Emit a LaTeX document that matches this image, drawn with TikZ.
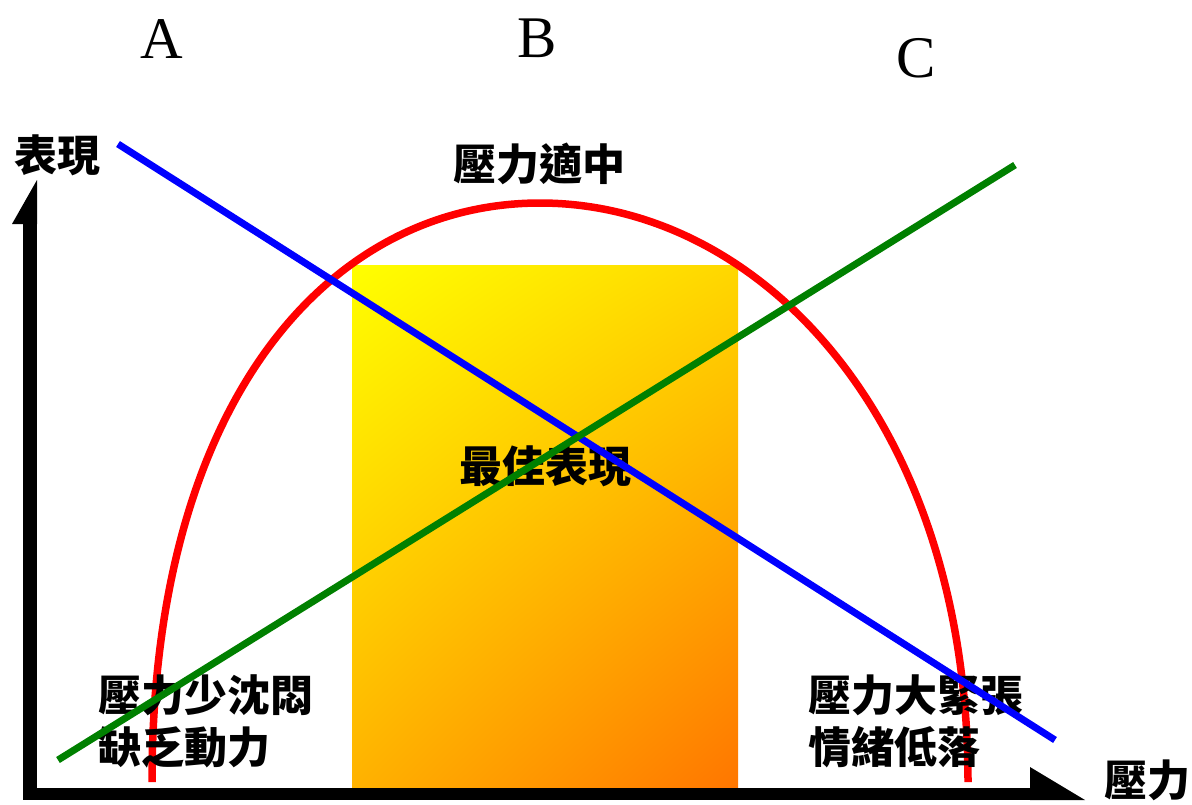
\documentclass[tikz,border=0pt]{standalone}
\usepackage{fontspec}
\usetikzlibrary{shadings}
\setmainfont{Liberation Serif}
\newfontfamily\cjk{Noto Sans CJK TC}
\definecolor{rc}{RGB}{255,0,0}
\definecolor{bc}{RGB}{0,0,255}
\definecolor{gc}{RGB}{0,128,0}
\definecolor{ytl}{RGB}{255,255,0}
\definecolor{ytr}{RGB}{255,215,0}
\definecolor{ybl}{RGB}{255,178,0}
\definecolor{ybr}{RGB}{255,118,0}
\tikzset{
  lbl/.style={font=\cjk\bfseries\fontsize{43}{52}\selectfont, inner sep=0pt},
  letter/.style={font=\fontsize{59}{62}\selectfont, inner sep=0pt, anchor=base},
  crossline/.style={line width=7pt, line cap=butt},
  axisline/.style={fill=black, draw=none}
}
\begin{document}
\begin{tikzpicture}[x=1pt,y=-1pt]
\useasboundingbox (0,0) rectangle (1192,804);
% optimal zone
\shade[upper left=ytl, upper right=ytr, lower left=ybl, lower right=ybr] (352,265) rectangle (738,787);
% arch
\draw[rc, line width=7.5pt] (152,782) .. controls (152,400) and (330,203) .. (540,203)
  .. controls (760,203) and (968,420) .. (968,782);
% axes
\fill[axisline] (23,223) rectangle (37,800);
\fill[axisline] (37,180) -- (12,224) -- (37,224) -- cycle;
\fill[axisline] (23,788) rectangle (1031,800);
\fill[axisline] (1030,767) -- (1085,800) -- (1030,800) -- cycle;
% labels
\node[letter] (A) at (162,58) {A};
\node[letter] (B) at (537,57) {B};
\node[letter] (C) at (916,77) {C};
\node[lbl] (yl) at (57,155) {表現};
\node[lbl] (xl) at (1147,780) {壓力};
\node[lbl] (top) at (539,164) {壓力適中};
\node[lbl] (mid) at (545,466) {最佳表現};
\node[lbl, anchor=west, align=left] (left) at (98,721) {壓力少沈悶\\缺乏動力};
\node[lbl, anchor=west, align=left] (right) at (808,721) {壓力大緊張\\情緒低落};
% crossing lines
\coordinate (b1) at (118,144);
\coordinate (b2) at (1055,740);
\coordinate (g1) at (58,760);
\coordinate (g2) at (1015,165);
\draw[crossline, bc] (b1) -- (b2);
\draw[crossline, gc] (g1) -- (g2);
\end{tikzpicture}
\end{document}
